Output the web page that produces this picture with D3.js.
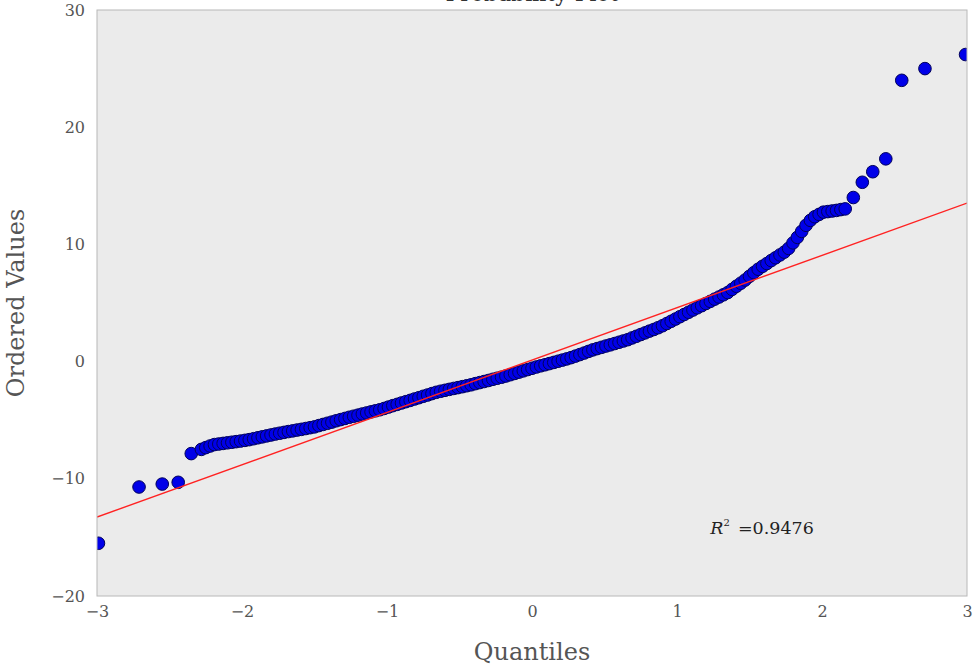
<!DOCTYPE html>
<html lang="en">
<head>
    <meta charset="UTF-8">
    <title>probability plot</title>
    <script src="https://cdn.jsdelivr.net/npm/d3@7/dist/d3.min.js"></script>
    <style>
        body { margin: 0; background: #fff; }
        #chart { width: 977px; height: 666px; }
        .tick text { font-family: "DejaVu Serif", serif; font-size: 16px; fill: #555; }
        .axisLabel { font-family: "DejaVu Serif", serif; font-size: 24px; fill: #555; }
        .theline { fill: none; stroke: #f22; stroke-width: 1.4px; clip-path: url(#clip); }
        .dots circle { fill: #0000e8; stroke: #00005a; stroke-width: 1px; }
    </style>
</head>
<body>
<div id="chart"></div>
<script>
    // theoretical quantiles (x) and ordered values (y)
    let quantiles = [
        -2.99, -2.71, -2.55, -2.44, -2.35,
        -2.28, -2.25, -2.22, -2.19, -2.16, -2.13, -2.10, -2.07, -2.04, -2.01, -1.98,
        -1.95, -1.92, -1.89, -1.86, -1.83, -1.80, -1.77, -1.74, -1.71, -1.68, -1.65,
        -1.62, -1.59, -1.56, -1.53, -1.50, -1.47, -1.44, -1.41, -1.38, -1.35, -1.32,
        -1.29, -1.26, -1.23, -1.20, -1.17, -1.14, -1.11, -1.08, -1.05, -1.02, -0.99,
        -0.96, -0.93, -0.90, -0.87, -0.84, -0.81, -0.78, -0.75, -0.72, -0.69, -0.66,
        -0.63, -0.60, -0.57, -0.54, -0.51, -0.48, -0.45, -0.42, -0.39, -0.36, -0.33,
        -0.30, -0.27, -0.24, -0.21, -0.18, -0.15, -0.12, -0.09, -0.06, -0.03, 0.00,
        0.03, 0.06, 0.09, 0.12, 0.15, 0.18, 0.21, 0.24, 0.27, 0.30, 0.33, 0.36, 0.39,
        0.42, 0.45, 0.48, 0.51, 0.54, 0.57, 0.60, 0.63, 0.66, 0.69, 0.72, 0.75, 0.78,
        0.81, 0.84, 0.87, 0.90, 0.93, 0.96, 0.99, 1.02, 1.05, 1.08, 1.11, 1.14, 1.17,
        1.20, 1.23, 1.26, 1.29, 1.32, 1.35, 1.38, 1.41, 1.44, 1.47, 1.50, 1.53, 1.56,
        1.59, 1.62, 1.65, 1.68, 1.71, 1.74, 1.77, 1.80, 1.83, 1.86, 1.89, 1.92, 1.95,
        1.98, 2.01, 2.04, 2.07, 2.10, 2.13, 2.16,
        2.216, 2.278, 2.35, 2.44, 2.55, 2.71, 2.99
    ];
    let orderedValues = [
        -15.5, -10.7, -10.45, -10.3, -7.85,
        -7.49, -7.34, -7.20, -7.08, -7.03, -6.98, -6.93, -6.88, -6.83, -6.78, -6.72,
        -6.66, -6.58, -6.50, -6.42, -6.34, -6.26, -6.18, -6.11, -6.04, -5.97, -5.91,
        -5.84, -5.78, -5.71, -5.64, -5.57, -5.46, -5.36, -5.26, -5.16, -5.05, -4.95,
        -4.85, -4.75, -4.66, -4.57, -4.47, -4.38, -4.29, -4.20, -4.11, -4.00, -3.88,
        -3.76, -3.65, -3.53, -3.42, -3.31, -3.19, -3.08, -2.96, -2.85, -2.73, -2.62,
        -2.53, -2.45, -2.37, -2.29, -2.22, -2.14, -2.06, -1.98, -1.88, -1.79, -1.70,
        -1.61, -1.51, -1.42, -1.33, -1.23, -1.12, -1.01, -0.90, -0.79, -0.68, -0.57,
        -0.46, -0.36, -0.27, -0.17, -0.07, 0.03, 0.13, 0.23, 0.34, 0.47, 0.60, 0.73, 0.87,
        1.00, 1.11, 1.22, 1.33, 1.43, 1.54, 1.65, 1.76, 1.87, 2.02, 2.16, 2.31, 2.45,
        2.60, 2.74, 2.89, 3.06, 3.25, 3.44, 3.63, 3.83, 4.02, 4.21, 4.40, 4.59, 4.77,
        4.96, 5.14, 5.33, 5.51, 5.70, 5.89, 6.16, 6.43, 6.69, 6.96, 7.28, 7.59, 7.88,
        8.13, 8.37, 8.62, 8.86, 9.10, 9.34, 9.66, 10.13, 10.60, 11.11, 11.63, 12.05, 12.36,
        12.56, 12.75, 12.80, 12.85, 12.90, 12.97, 13.03,
        14.0, 15.3, 16.2, 17.3, 24.0, 25.0, 26.2
    ];
    // least squares fit shown as the red line
    let fitSlope = 4.465;
    let fitIntercept = 0.13;
    let rSquared = "0.9476";
    let xTicks = [-3, -2, -1, 0, 1, 2, 3];
    let yTicks = [-20, -10, 0, 10, 20, 30];
    let xDomain = [-3, 3];
    let yDomain = [-20, 30];

    let svg = d3.select("#chart").append("svg")
        .attr("width", 977)
        .attr("height", 666);

    let padding = { top: 10, left: 97, bottom: 70, right: 10 };
    let width = 977 - padding.left - padding.right;
    let height = 666 - padding.top - padding.bottom;

    // title sits above the picture, only its lowest part shows
    svg.append("text")
        .attr("x", padding.left + width / 2)
        .attr("y", 1)
        .attr("text-anchor", "middle")
        .style("font-family", "DejaVu Serif, serif")
        .style("font-size", "22px")
        .style("fill", "#333")
        .text("Probability Plot");

    let focus = svg.append("g")
        .attr("transform", "translate(" + padding.left + "," + padding.top + ")");

    focus.append("defs").append("clipPath")
        .attr("id", "clip")
        .append("rect")
        .attr("width", width)
        .attr("height", height);

    focus.append("rect")
        .attr("width", width)
        .attr("height", height)
        .style("fill", "#ebebeb");

    let x = d3.scaleLinear().domain(xDomain).range([0, width]);
    let y = d3.scaleLinear().domain(yDomain).range([height, 0]);

    let fmt = d => (d < 0 ? "\u2212" + Math.abs(d) : "" + d);

    focus.append("g")
        .attr("transform", "translate(0," + height + ")")
        .call(d3.axisBottom(x).tickValues(xTicks).tickSize(0).tickPadding(10).tickFormat(fmt))
        .call(g => g.select(".domain").remove());

    focus.append("g")
        .call(d3.axisLeft(y).tickValues(yTicks).tickSize(0).tickPadding(12).tickFormat(fmt))
        .call(g => g.select(".domain").remove());

    let line = d3.line().x(d => x(d)).y(d => y(fitIntercept + fitSlope * d));

    // points
    let pts = quantiles.map((q, i) => ({ q: q, v: orderedValues[i] }));
    focus.append("g")
        .attr("class", "dots")
        .attr("clip-path", "url(#clip)")
        .selectAll("circle")
        .data(pts)
        .enter()
        .append("circle")
        .attr("cx", d => x(d.q))
        .attr("cy", d => y(d.v))
        .attr("r", 6.3);

    // fit line on top of the points
    focus.append("path")
        .attr("class", "theline")
        .attr("d", line(xDomain));

    // frame
    focus.append("rect")
        .attr("width", width)
        .attr("height", height)
        .style("fill", "none")
        .style("stroke", "#b8b8b8")
        .style("stroke-width", 1);

    // R^2 note
    let note = focus.append("text")
        .attr("x", x(1.23))
        .attr("y", y(-14.7))
        .style("font-family", "DejaVu Serif, serif")
        .style("font-size", "17.5px")
        .style("fill", "#222");
    note.append("tspan").style("font-style", "italic").text("R");
    note.append("tspan").attr("dy", -8).style("font-size", "10px").text("2");
    note.append("tspan").attr("dy", 8).attr("dx", 8).text("=" + rSquared);

    svg.append("text")
        .attr("class", "axisLabel")
        .attr("x", padding.left + width / 2)
        .attr("y", 660)
        .attr("text-anchor", "middle")
        .text("Quantiles");

    svg.append("text")
        .attr("class", "axisLabel")
        .attr("transform", "translate(24," + (padding.top + height / 2) + ") rotate(-90)")
        .attr("text-anchor", "middle")
        .text("Ordered Values");
</script>
</body>
</html>
